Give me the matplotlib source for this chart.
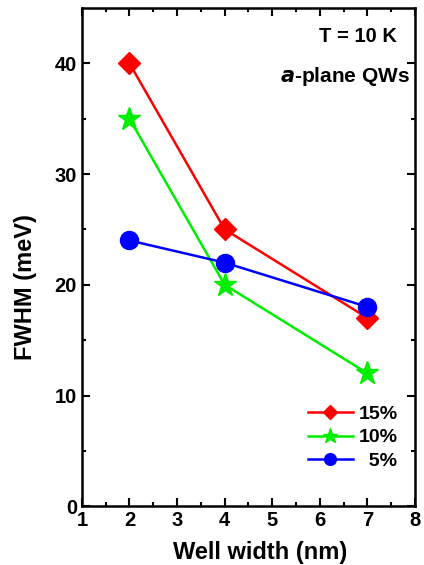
import matplotlib
matplotlib.use("Agg")
import matplotlib.pyplot as plt

plt.rcParams['font.family'] = ['Liberation Sans', 'DejaVu Sans']
plt.rcParams['font.weight'] = 'bold'

well_width = [2, 4, 7]
fwhm_15 = [40, 25, 17]
fwhm_10 = [35, 20, 12]
fwhm_5 = [24, 22, 18]

fig = plt.figure(figsize=(4.24, 5.65), dpi=100)
ax = fig.add_axes([0.193, 0.104, 0.786, 0.882])

ax.plot(well_width, fwhm_15, color='#ff0000', lw=1.8, marker='D', ms=11, label='15%')
ax.plot(well_width, fwhm_10, color='#00ee00', lw=1.8, marker='*', ms=17, label='10%')
ax.plot(well_width, fwhm_5, color='#0000ff', lw=1.8, marker='o', ms=13, label='  5%')

ax.set_xlim(1, 8)
ax.set_ylim(0, 45)
ax.set_xticks(range(1, 9))
ax.set_xticks([x + 0.5 for x in range(1, 8)], minor=True)
ax.set_yticks([0, 10, 20, 30, 40])
ax.set_yticks([5, 15, 25, 35], minor=True)
ax.tick_params(which='both', direction='in', top=True, right=True, width=1.5,
               labelsize=14.5)
ax.tick_params(which='major', length=6)
ax.tick_params(which='minor', length=3)
for s in ax.spines.values():
    s.set_linewidth(1.8)

ax.set_xlabel('Well width (nm)', fontsize=17, fontweight='bold')
ax.set_ylabel('FWHM (meV)', fontsize=17, fontweight='bold')
ax.xaxis.set_label_coords(0.535, -0.07)
ax.yaxis.set_label_coords(-0.135, 0.44)

ax.text(0.944, 0.943, 'T = 10 K', transform=ax.transAxes, ha='right', va='center',
        fontsize=14.5, fontweight='bold')
ax.text(0.985, 0.862, r'$\bf{\it{a}}$-plane QWs', transform=ax.transAxes, ha='right',
        va='center', fontsize=15, fontweight='bold')

leg = ax.legend(loc='lower right', bbox_to_anchor=(1.0, 0.038), frameon=False,
                fontsize=14, handlelength=2.3, markerscale=0.65, labelspacing=0.3,
                handletextpad=0.3)

fig.savefig('out.png', dpi=100)
